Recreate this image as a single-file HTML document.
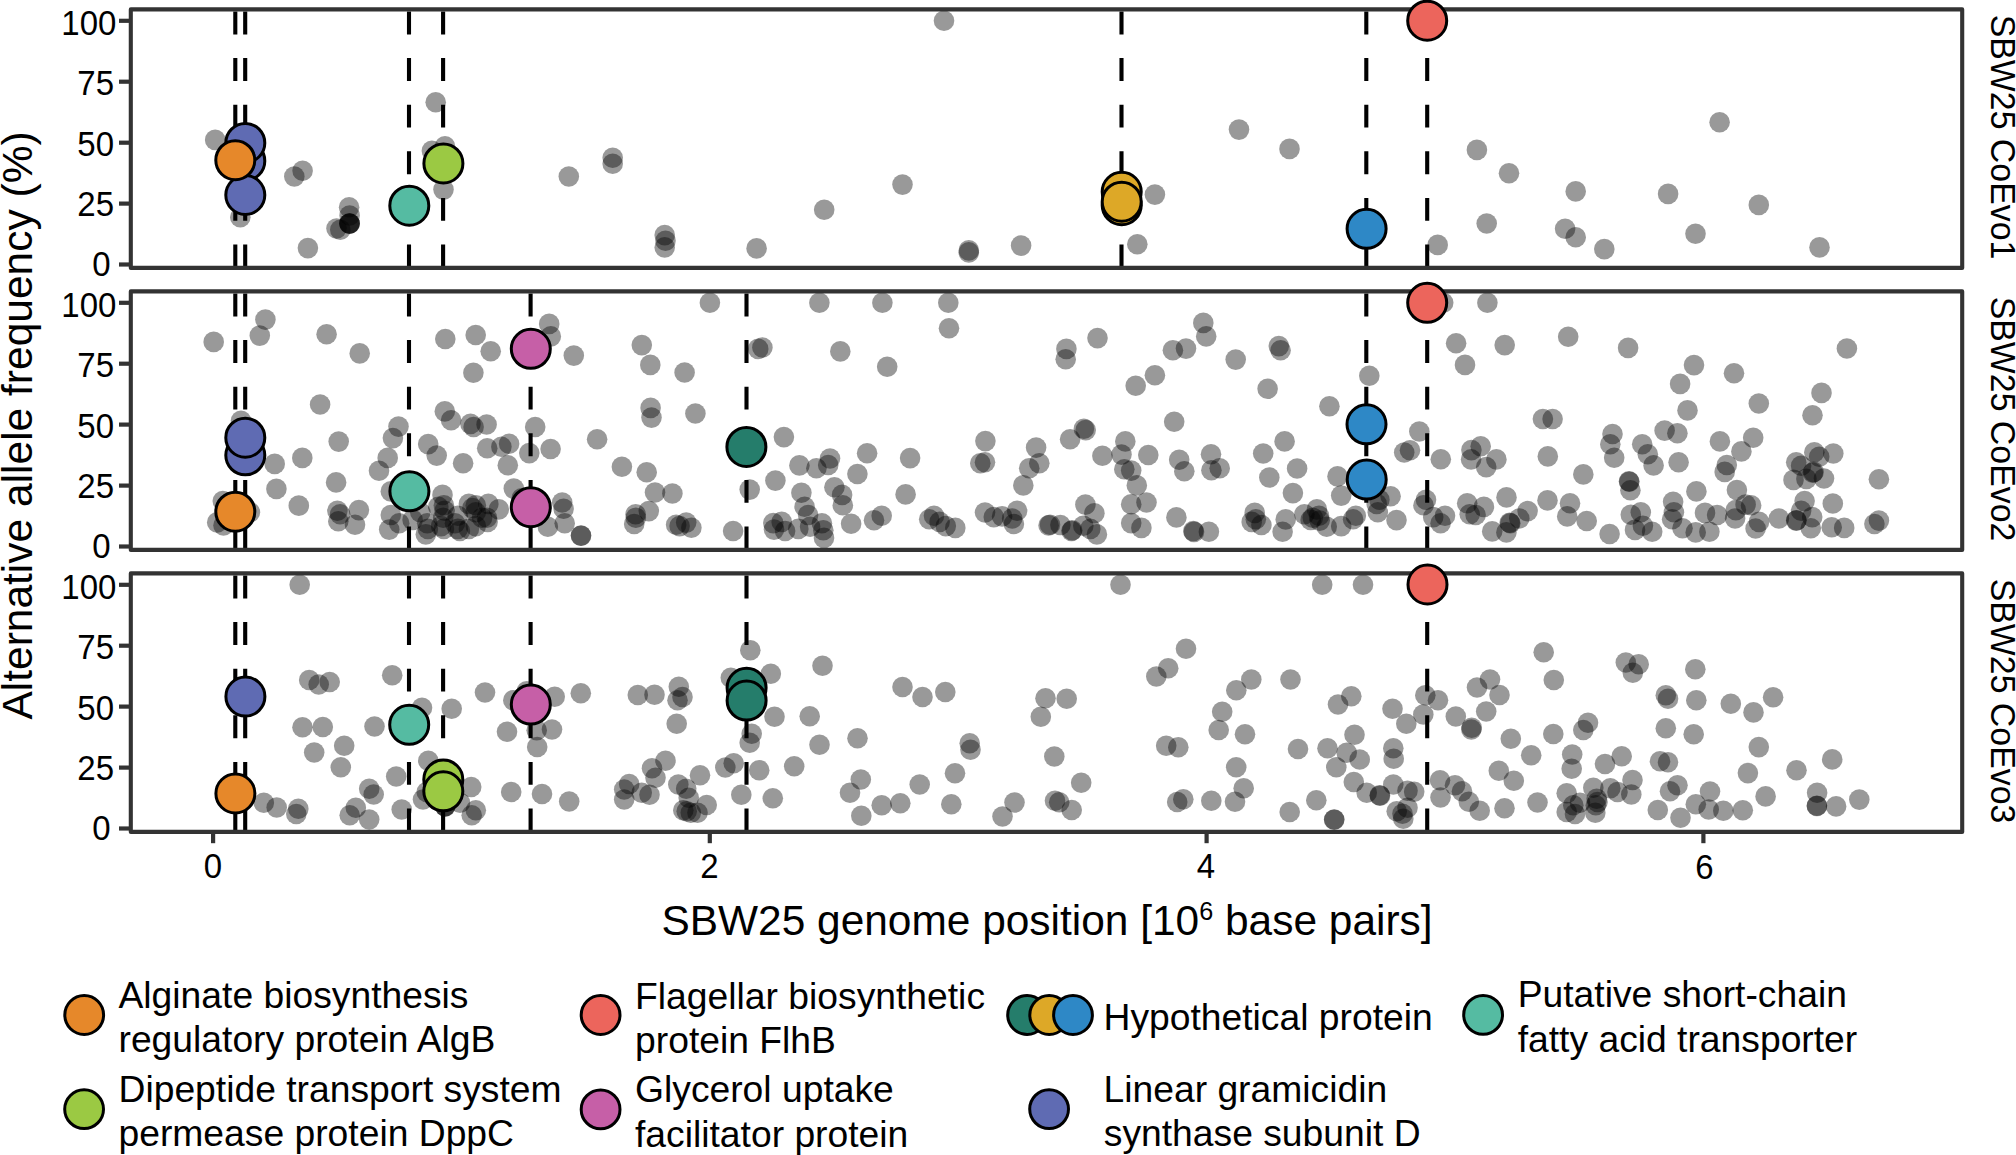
<!DOCTYPE html>
<html lang="en"><head><meta charset="utf-8"><title>SBW25 alternative allele frequency</title>
<style>html,body{margin:0;padding:0;background:#fff}svg{display:block}text{font-family:"Liberation Sans", Arial, Helvetica, sans-serif;fill:#000}</style>
</head><body>
<svg width="2016" height="1155" viewBox="0 0 2016 1155">
<rect width="2016" height="1155" fill="#fff"/>
<g id="panel1">
<g fill="#000" fill-opacity="0.4">
<circle cx="215.2" cy="139.9" r="10.3"/>
<circle cx="435.7" cy="102.2" r="10.3"/>
<circle cx="445.0" cy="146.4" r="10.3"/>
<circle cx="431.9" cy="150.7" r="10.3"/>
<circle cx="443.5" cy="189.6" r="10.3"/>
<circle cx="302.6" cy="170.8" r="10.3"/>
<circle cx="294.3" cy="176.5" r="10.3"/>
<circle cx="240.3" cy="217.2" r="10.3"/>
<circle cx="349.1" cy="207.2" r="10.3"/>
<circle cx="349.6" cy="215.5" r="10.3"/>
<circle cx="349.6" cy="223.5" r="10.3"/>
<circle cx="349.6" cy="223.5" r="10.3"/>
<circle cx="349.6" cy="223.8" r="10.3"/>
<circle cx="349.3" cy="223.5" r="10.3"/>
<circle cx="336.5" cy="228.5" r="10.3"/>
<circle cx="340.3" cy="229.8" r="10.3"/>
<circle cx="307.9" cy="248.1" r="10.3"/>
<circle cx="944.0" cy="20.8" r="10.3"/>
<circle cx="612.7" cy="157.7" r="10.3"/>
<circle cx="612.7" cy="163.7" r="10.3"/>
<circle cx="568.8" cy="176.5" r="10.3"/>
<circle cx="664.7" cy="235.1" r="10.3"/>
<circle cx="665.5" cy="240.8" r="10.3"/>
<circle cx="664.7" cy="247.4" r="10.3"/>
<circle cx="756.6" cy="248.4" r="10.3"/>
<circle cx="824.2" cy="209.7" r="10.3"/>
<circle cx="902.5" cy="184.6" r="10.3"/>
<circle cx="968.8" cy="250.4" r="10.3"/>
<circle cx="968.8" cy="252.4" r="10.3"/>
<circle cx="1021.1" cy="245.6" r="10.3"/>
<circle cx="1137.3" cy="244.3" r="10.3"/>
<circle cx="1154.9" cy="194.6" r="10.3"/>
<circle cx="1239.0" cy="129.6" r="10.3"/>
<circle cx="1289.5" cy="148.9" r="10.3"/>
<circle cx="1476.9" cy="149.9" r="10.3"/>
<circle cx="1509.0" cy="173.3" r="10.3"/>
<circle cx="1486.7" cy="223.5" r="10.3"/>
<circle cx="1437.7" cy="244.9" r="10.3"/>
<circle cx="1575.7" cy="191.4" r="10.3"/>
<circle cx="1565.1" cy="228.8" r="10.3"/>
<circle cx="1575.7" cy="237.3" r="10.3"/>
<circle cx="1604.3" cy="249.1" r="10.3"/>
<circle cx="1668.1" cy="193.9" r="10.3"/>
<circle cx="1695.5" cy="233.8" r="10.3"/>
<circle cx="1719.6" cy="122.3" r="10.3"/>
<circle cx="1758.8" cy="204.9" r="10.3"/>
<circle cx="1819.5" cy="247.4" r="10.3"/>
</g>
<g stroke="#000" stroke-width="4.1" stroke-dasharray="22.9 23.7">
<line x1="235.3" y1="11.5" x2="235.3" y2="267.9"/>
<line x1="245.2" y1="11.5" x2="245.2" y2="267.9"/>
<line x1="409.0" y1="11.5" x2="409.0" y2="267.9"/>
<line x1="443.1" y1="11.5" x2="443.1" y2="267.9"/>
<line x1="1121.5" y1="11.5" x2="1121.5" y2="267.9"/>
<line x1="1366.3" y1="11.5" x2="1366.3" y2="267.9"/>
<line x1="1427.2" y1="11.5" x2="1427.2" y2="267.9"/>
</g>
<rect x="130.8" y="9.4" width="1831.4" height="258.5" fill="none" stroke="#333333" stroke-width="4.1" stroke-linejoin="round"/>
<g stroke="#333333" stroke-width="4.2">
<line x1="119" y1="20.8" x2="129" y2="20.8"/>
<line x1="119" y1="81.7" x2="129" y2="81.7"/>
<line x1="119" y1="142.7" x2="129" y2="142.7"/>
<line x1="119" y1="203.6" x2="129" y2="203.6"/>
<line x1="119" y1="264.5" x2="129" y2="264.5"/>
</g>
<g font-size="34.5" text-anchor="end" lengthAdjust="spacingAndGlyphs">
<text x="116.4" y="35.2" textLength="55.06" lengthAdjust="spacingAndGlyphs">100</text>
<text x="114.0" y="95.4" textLength="36.71" lengthAdjust="spacingAndGlyphs">75</text>
<text x="114.0" y="155.7" textLength="36.71" lengthAdjust="spacingAndGlyphs">50</text>
<text x="114.0" y="215.9" textLength="36.71" lengthAdjust="spacingAndGlyphs">25</text>
<text x="110.6" y="276.1" textLength="18.35" lengthAdjust="spacingAndGlyphs">0</text>
</g>
<g stroke="#000" stroke-width="3">
<circle cx="245.3" cy="160.9" r="19.5" fill="#5F6BB3"/>
<circle cx="245.3" cy="142.9" r="19.5" fill="#5F6BB3"/>
<circle cx="245.3" cy="195.0" r="19.5" fill="#5F6BB3"/>
<circle cx="235.3" cy="160.2" r="19.5" fill="#E6882A"/>
<circle cx="409.3" cy="205.7" r="19.5" fill="#55BBA2"/>
<circle cx="443.4" cy="163.4" r="19.5" fill="#9BC943"/>
<circle cx="1121.7" cy="205.2" r="19.5" fill="#DDA827"/>
<circle cx="1121.7" cy="191.8" r="19.5" fill="#DDA827"/>
<circle cx="1121.7" cy="201.7" r="19.5" fill="#DDA827"/>
<circle cx="1366.6" cy="228.8" r="19.5" fill="#2E88C6"/>
<circle cx="1427.2" cy="20.7" r="19.5" fill="#EC655C"/>
</g>
<text font-size="34.6" textLength="244.6" lengthAdjust="spacingAndGlyphs" transform="translate(1990.6 14.7) rotate(90)">SBW25 CoEvo1</text>
</g>
<g id="panel2">
<g fill="#000" fill-opacity="0.4">
<circle cx="265.4" cy="319.6" r="10.3"/>
<circle cx="259.8" cy="335.6" r="10.3"/>
<circle cx="213.7" cy="341.9" r="10.3"/>
<circle cx="326.6" cy="334.2" r="10.3"/>
<circle cx="359.7" cy="353.4" r="10.3"/>
<circle cx="445.3" cy="339.0" r="10.3"/>
<circle cx="475.7" cy="335.0" r="10.3"/>
<circle cx="490.7" cy="351.3" r="10.3"/>
<circle cx="473.4" cy="372.8" r="10.3"/>
<circle cx="320.1" cy="404.5" r="10.3"/>
<circle cx="444.8" cy="411.4" r="10.3"/>
<circle cx="451.1" cy="420.3" r="10.3"/>
<circle cx="398.5" cy="426.6" r="10.3"/>
<circle cx="392.9" cy="438.1" r="10.3"/>
<circle cx="470.5" cy="423.9" r="10.3"/>
<circle cx="473.6" cy="427.0" r="10.3"/>
<circle cx="486.6" cy="424.5" r="10.3"/>
<circle cx="338.7" cy="441.6" r="10.3"/>
<circle cx="428.2" cy="444.1" r="10.3"/>
<circle cx="436.7" cy="455.6" r="10.3"/>
<circle cx="387.7" cy="457.9" r="10.3"/>
<circle cx="487.2" cy="448.3" r="10.3"/>
<circle cx="501.4" cy="446.8" r="10.3"/>
<circle cx="509.1" cy="443.7" r="10.3"/>
<circle cx="529.3" cy="453.1" r="10.3"/>
<circle cx="535.2" cy="427.0" r="10.3"/>
<circle cx="302.3" cy="457.9" r="10.3"/>
<circle cx="241.0" cy="420.7" r="10.3"/>
<circle cx="274.7" cy="463.9" r="10.3"/>
<circle cx="276.4" cy="488.9" r="10.3"/>
<circle cx="298.8" cy="505.6" r="10.3"/>
<circle cx="336.1" cy="482.4" r="10.3"/>
<circle cx="222.8" cy="501.1" r="10.3"/>
<circle cx="217.2" cy="522.4" r="10.3"/>
<circle cx="223.5" cy="525.4" r="10.3"/>
<circle cx="249.9" cy="512.2" r="10.3"/>
<circle cx="337.4" cy="510.8" r="10.3"/>
<circle cx="340.1" cy="514.3" r="10.3"/>
<circle cx="338.3" cy="521.2" r="10.3"/>
<circle cx="358.9" cy="510.1" r="10.3"/>
<circle cx="355.0" cy="524.7" r="10.3"/>
<circle cx="379.0" cy="470.8" r="10.3"/>
<circle cx="390.8" cy="491.4" r="10.3"/>
<circle cx="390.8" cy="515.0" r="10.3"/>
<circle cx="389.2" cy="529.6" r="10.3"/>
<circle cx="399.2" cy="523.3" r="10.3"/>
<circle cx="550.6" cy="449.0" r="10.3"/>
<circle cx="463.1" cy="463.3" r="10.3"/>
<circle cx="507.8" cy="465.3" r="10.3"/>
<circle cx="621.9" cy="466.8" r="10.3"/>
<circle cx="646.7" cy="472.2" r="10.3"/>
<circle cx="655.0" cy="492.5" r="10.3"/>
<circle cx="648.8" cy="511.1" r="10.3"/>
<circle cx="635.6" cy="514.3" r="10.3"/>
<circle cx="635.8" cy="517.8" r="10.3"/>
<circle cx="634.2" cy="524.0" r="10.3"/>
<circle cx="513.8" cy="488.6" r="10.3"/>
<circle cx="521.7" cy="498.3" r="10.3"/>
<circle cx="562.2" cy="502.5" r="10.3"/>
<circle cx="563.6" cy="508.8" r="10.3"/>
<circle cx="564.7" cy="523.3" r="10.3"/>
<circle cx="547.8" cy="526.8" r="10.3"/>
<circle cx="581.0" cy="535.8" r="10.3"/>
<circle cx="581.0" cy="535.6" r="10.3"/>
<circle cx="442.5" cy="494.9" r="10.3"/>
<circle cx="412.6" cy="519.9" r="10.3"/>
<circle cx="420.3" cy="512.2" r="10.3"/>
<circle cx="425.8" cy="534.4" r="10.3"/>
<circle cx="427.2" cy="523.3" r="10.3"/>
<circle cx="427.9" cy="528.9" r="10.3"/>
<circle cx="438.3" cy="506.7" r="10.3"/>
<circle cx="443.9" cy="505.3" r="10.3"/>
<circle cx="444.6" cy="510.8" r="10.3"/>
<circle cx="443.2" cy="517.8" r="10.3"/>
<circle cx="443.9" cy="528.9" r="10.3"/>
<circle cx="441.1" cy="526.1" r="10.3"/>
<circle cx="455.0" cy="523.3" r="10.3"/>
<circle cx="457.8" cy="528.9" r="10.3"/>
<circle cx="459.9" cy="531.0" r="10.3"/>
<circle cx="457.8" cy="515.7" r="10.3"/>
<circle cx="468.9" cy="503.9" r="10.3"/>
<circle cx="472.4" cy="508.1" r="10.3"/>
<circle cx="475.8" cy="505.3" r="10.3"/>
<circle cx="475.8" cy="512.2" r="10.3"/>
<circle cx="468.9" cy="528.9" r="10.3"/>
<circle cx="475.8" cy="526.1" r="10.3"/>
<circle cx="482.1" cy="517.8" r="10.3"/>
<circle cx="487.6" cy="521.9" r="10.3"/>
<circle cx="488.3" cy="503.9" r="10.3"/>
<circle cx="486.9" cy="517.8" r="10.3"/>
<circle cx="498.8" cy="509.4" r="10.3"/>
<circle cx="672.4" cy="493.5" r="10.3"/>
<circle cx="676.1" cy="524.7" r="10.3"/>
<circle cx="679.6" cy="526.1" r="10.3"/>
<circle cx="686.2" cy="522.6" r="10.3"/>
<circle cx="691.4" cy="527.8" r="10.3"/>
<circle cx="733.1" cy="531.0" r="10.3"/>
<circle cx="749.7" cy="489.6" r="10.3"/>
<circle cx="775.4" cy="480.6" r="10.3"/>
<circle cx="799.4" cy="465.4" r="10.3"/>
<circle cx="816.4" cy="468.2" r="10.3"/>
<circle cx="830.0" cy="458.5" r="10.3"/>
<circle cx="828.2" cy="465.0" r="10.3"/>
<circle cx="867.1" cy="453.2" r="10.3"/>
<circle cx="910.1" cy="458.1" r="10.3"/>
<circle cx="857.4" cy="474.0" r="10.3"/>
<circle cx="801.4" cy="492.8" r="10.3"/>
<circle cx="804.6" cy="506.7" r="10.3"/>
<circle cx="808.1" cy="515.0" r="10.3"/>
<circle cx="834.4" cy="487.2" r="10.3"/>
<circle cx="842.1" cy="494.9" r="10.3"/>
<circle cx="842.8" cy="505.3" r="10.3"/>
<circle cx="905.6" cy="494.4" r="10.3"/>
<circle cx="881.7" cy="515.7" r="10.3"/>
<circle cx="874.0" cy="520.3" r="10.3"/>
<circle cx="851.1" cy="523.8" r="10.3"/>
<circle cx="773.3" cy="523.1" r="10.3"/>
<circle cx="781.7" cy="521.9" r="10.3"/>
<circle cx="774.0" cy="529.6" r="10.3"/>
<circle cx="785.1" cy="531.0" r="10.3"/>
<circle cx="798.3" cy="528.9" r="10.3"/>
<circle cx="810.1" cy="526.8" r="10.3"/>
<circle cx="821.9" cy="523.3" r="10.3"/>
<circle cx="823.3" cy="530.3" r="10.3"/>
<circle cx="824.0" cy="537.9" r="10.3"/>
<circle cx="929.2" cy="519.2" r="10.3"/>
<circle cx="934.0" cy="515.7" r="10.3"/>
<circle cx="939.6" cy="521.9" r="10.3"/>
<circle cx="945.8" cy="526.1" r="10.3"/>
<circle cx="955.3" cy="527.9" r="10.3"/>
<circle cx="985.4" cy="441.1" r="10.3"/>
<circle cx="980.3" cy="463.3" r="10.3"/>
<circle cx="985.0" cy="462.2" r="10.3"/>
<circle cx="1036.1" cy="447.6" r="10.3"/>
<circle cx="1039.3" cy="463.3" r="10.3"/>
<circle cx="1029.2" cy="468.2" r="10.3"/>
<circle cx="1023.3" cy="485.4" r="10.3"/>
<circle cx="1070.1" cy="439.3" r="10.3"/>
<circle cx="1102.4" cy="455.7" r="10.3"/>
<circle cx="1125.3" cy="441.4" r="10.3"/>
<circle cx="1121.5" cy="454.6" r="10.3"/>
<circle cx="1124.3" cy="469.2" r="10.3"/>
<circle cx="1131.2" cy="470.6" r="10.3"/>
<circle cx="1148.3" cy="455.0" r="10.3"/>
<circle cx="1136.8" cy="485.4" r="10.3"/>
<circle cx="1131.2" cy="504.2" r="10.3"/>
<circle cx="1146.5" cy="502.5" r="10.3"/>
<circle cx="1131.2" cy="523.1" r="10.3"/>
<circle cx="1141.4" cy="527.9" r="10.3"/>
<circle cx="1085.4" cy="504.6" r="10.3"/>
<circle cx="1094.4" cy="513.2" r="10.3"/>
<circle cx="1176.4" cy="517.4" r="10.3"/>
<circle cx="985.0" cy="512.5" r="10.3"/>
<circle cx="993.8" cy="517.1" r="10.3"/>
<circle cx="1002.1" cy="516.4" r="10.3"/>
<circle cx="1017.1" cy="510.8" r="10.3"/>
<circle cx="1012.2" cy="518.5" r="10.3"/>
<circle cx="1013.9" cy="524.0" r="10.3"/>
<circle cx="1048.6" cy="525.4" r="10.3"/>
<circle cx="1050.0" cy="524.7" r="10.3"/>
<circle cx="1060.4" cy="525.0" r="10.3"/>
<circle cx="1071.5" cy="531.0" r="10.3"/>
<circle cx="1072.2" cy="530.3" r="10.3"/>
<circle cx="1083.3" cy="525.8" r="10.3"/>
<circle cx="1090.3" cy="528.9" r="10.3"/>
<circle cx="1096.9" cy="534.4" r="10.3"/>
<circle cx="1179.2" cy="459.7" r="10.3"/>
<circle cx="1184.3" cy="471.2" r="10.3"/>
<circle cx="1211.0" cy="454.3" r="10.3"/>
<circle cx="1211.4" cy="470.3" r="10.3"/>
<circle cx="1219.7" cy="468.2" r="10.3"/>
<circle cx="1263.2" cy="453.5" r="10.3"/>
<circle cx="1284.6" cy="441.4" r="10.3"/>
<circle cx="1269.3" cy="477.5" r="10.3"/>
<circle cx="1297.1" cy="468.5" r="10.3"/>
<circle cx="1292.9" cy="493.1" r="10.3"/>
<circle cx="1337.5" cy="476.4" r="10.3"/>
<circle cx="1341.2" cy="495.6" r="10.3"/>
<circle cx="1390.6" cy="496.2" r="10.3"/>
<circle cx="1379.4" cy="499.7" r="10.3"/>
<circle cx="1376.7" cy="503.9" r="10.3"/>
<circle cx="1377.8" cy="512.2" r="10.3"/>
<circle cx="1396.5" cy="520.1" r="10.3"/>
<circle cx="1404.2" cy="452.5" r="10.3"/>
<circle cx="1410.0" cy="450.3" r="10.3"/>
<circle cx="1426.0" cy="499.7" r="10.3"/>
<circle cx="1423.5" cy="505.3" r="10.3"/>
<circle cx="1194.0" cy="531.9" r="10.3"/>
<circle cx="1193.3" cy="531.0" r="10.3"/>
<circle cx="1208.9" cy="531.7" r="10.3"/>
<circle cx="1254.7" cy="512.9" r="10.3"/>
<circle cx="1251.7" cy="521.9" r="10.3"/>
<circle cx="1255.8" cy="519.2" r="10.3"/>
<circle cx="1261.4" cy="525.0" r="10.3"/>
<circle cx="1285.7" cy="519.4" r="10.3"/>
<circle cx="1282.6" cy="531.7" r="10.3"/>
<circle cx="1304.4" cy="514.3" r="10.3"/>
<circle cx="1310.7" cy="519.9" r="10.3"/>
<circle cx="1316.9" cy="509.4" r="10.3"/>
<circle cx="1319.0" cy="515.7" r="10.3"/>
<circle cx="1319.7" cy="520.6" r="10.3"/>
<circle cx="1326.7" cy="526.8" r="10.3"/>
<circle cx="1312.8" cy="517.8" r="10.3"/>
<circle cx="1341.2" cy="526.1" r="10.3"/>
<circle cx="1353.1" cy="519.2" r="10.3"/>
<circle cx="1355.8" cy="515.7" r="10.3"/>
<circle cx="1440.8" cy="459.2" r="10.3"/>
<circle cx="1471.4" cy="450.1" r="10.3"/>
<circle cx="1480.7" cy="446.2" r="10.3"/>
<circle cx="1471.1" cy="459.4" r="10.3"/>
<circle cx="1496.4" cy="459.4" r="10.3"/>
<circle cx="1486.2" cy="467.1" r="10.3"/>
<circle cx="1547.8" cy="456.4" r="10.3"/>
<circle cx="1583.3" cy="474.4" r="10.3"/>
<circle cx="1610.3" cy="444.2" r="10.3"/>
<circle cx="1614.2" cy="457.8" r="10.3"/>
<circle cx="1642.2" cy="444.2" r="10.3"/>
<circle cx="1647.8" cy="454.3" r="10.3"/>
<circle cx="1653.6" cy="465.4" r="10.3"/>
<circle cx="1678.6" cy="462.2" r="10.3"/>
<circle cx="1629.0" cy="481.2" r="10.3"/>
<circle cx="1629.3" cy="481.7" r="10.3"/>
<circle cx="1630.4" cy="490.3" r="10.3"/>
<circle cx="1696.4" cy="491.4" r="10.3"/>
<circle cx="1673.1" cy="501.8" r="10.3"/>
<circle cx="1673.9" cy="512.2" r="10.3"/>
<circle cx="1672.1" cy="519.2" r="10.3"/>
<circle cx="1682.5" cy="528.2" r="10.3"/>
<circle cx="1695.7" cy="532.4" r="10.3"/>
<circle cx="1630.8" cy="514.7" r="10.3"/>
<circle cx="1640.8" cy="512.2" r="10.3"/>
<circle cx="1642.9" cy="525.7" r="10.3"/>
<circle cx="1635.0" cy="529.9" r="10.3"/>
<circle cx="1652.2" cy="531.7" r="10.3"/>
<circle cx="1609.6" cy="534.0" r="10.3"/>
<circle cx="1586.7" cy="521.0" r="10.3"/>
<circle cx="1567.2" cy="516.4" r="10.3"/>
<circle cx="1570.0" cy="503.2" r="10.3"/>
<circle cx="1547.5" cy="500.4" r="10.3"/>
<circle cx="1506.5" cy="497.4" r="10.3"/>
<circle cx="1527.6" cy="511.1" r="10.3"/>
<circle cx="1519.3" cy="518.5" r="10.3"/>
<circle cx="1510.3" cy="523.3" r="10.3"/>
<circle cx="1509.7" cy="522.8" r="10.3"/>
<circle cx="1506.4" cy="532.4" r="10.3"/>
<circle cx="1492.2" cy="531.4" r="10.3"/>
<circle cx="1467.2" cy="503.2" r="10.3"/>
<circle cx="1483.9" cy="506.9" r="10.3"/>
<circle cx="1469.7" cy="514.3" r="10.3"/>
<circle cx="1475.6" cy="515.0" r="10.3"/>
<circle cx="1433.2" cy="517.1" r="10.3"/>
<circle cx="1445.0" cy="515.7" r="10.3"/>
<circle cx="1440.6" cy="523.3" r="10.3"/>
<circle cx="1719.9" cy="441.4" r="10.3"/>
<circle cx="1741.4" cy="451.4" r="10.3"/>
<circle cx="1726.8" cy="465.0" r="10.3"/>
<circle cx="1724.7" cy="471.9" r="10.3"/>
<circle cx="1736.9" cy="490.0" r="10.3"/>
<circle cx="1705.0" cy="512.9" r="10.3"/>
<circle cx="1717.1" cy="515.0" r="10.3"/>
<circle cx="1709.4" cy="531.7" r="10.3"/>
<circle cx="1735.8" cy="510.1" r="10.3"/>
<circle cx="1745.6" cy="504.6" r="10.3"/>
<circle cx="1751.1" cy="505.3" r="10.3"/>
<circle cx="1735.1" cy="518.5" r="10.3"/>
<circle cx="1759.0" cy="521.9" r="10.3"/>
<circle cx="1755.6" cy="528.5" r="10.3"/>
<circle cx="1778.9" cy="518.5" r="10.3"/>
<circle cx="1814.3" cy="452.2" r="10.3"/>
<circle cx="1819.2" cy="456.7" r="10.3"/>
<circle cx="1833.3" cy="453.5" r="10.3"/>
<circle cx="1796.2" cy="462.2" r="10.3"/>
<circle cx="1801.1" cy="465.7" r="10.3"/>
<circle cx="1813.6" cy="471.9" r="10.3"/>
<circle cx="1812.8" cy="472.8" r="10.3"/>
<circle cx="1793.5" cy="479.9" r="10.3"/>
<circle cx="1806.4" cy="478.9" r="10.3"/>
<circle cx="1824.0" cy="478.5" r="10.3"/>
<circle cx="1804.6" cy="501.1" r="10.3"/>
<circle cx="1801.1" cy="510.8" r="10.3"/>
<circle cx="1796.2" cy="520.6" r="10.3"/>
<circle cx="1796.5" cy="520.3" r="10.3"/>
<circle cx="1812.2" cy="517.1" r="10.3"/>
<circle cx="1810.8" cy="528.2" r="10.3"/>
<circle cx="1832.8" cy="503.5" r="10.3"/>
<circle cx="1831.7" cy="527.2" r="10.3"/>
<circle cx="1844.2" cy="527.9" r="10.3"/>
<circle cx="1878.9" cy="479.3" r="10.3"/>
<circle cx="1878.9" cy="520.6" r="10.3"/>
<circle cx="1874.4" cy="524.0" r="10.3"/>
<circle cx="549.2" cy="323.9" r="10.3"/>
<circle cx="550.8" cy="336.4" r="10.3"/>
<circle cx="573.8" cy="355.6" r="10.3"/>
<circle cx="709.9" cy="302.8" r="10.3"/>
<circle cx="641.8" cy="345.1" r="10.3"/>
<circle cx="650.3" cy="364.9" r="10.3"/>
<circle cx="684.6" cy="372.5" r="10.3"/>
<circle cx="762.4" cy="347.5" r="10.3"/>
<circle cx="758.2" cy="348.9" r="10.3"/>
<circle cx="650.6" cy="407.9" r="10.3"/>
<circle cx="651.5" cy="417.6" r="10.3"/>
<circle cx="695.4" cy="413.5" r="10.3"/>
<circle cx="597.1" cy="439.2" r="10.3"/>
<circle cx="783.9" cy="437.1" r="10.3"/>
<circle cx="819.4" cy="302.8" r="10.3"/>
<circle cx="882.4" cy="302.8" r="10.3"/>
<circle cx="948.3" cy="302.8" r="10.3"/>
<circle cx="949.0" cy="328.3" r="10.3"/>
<circle cx="840.3" cy="351.4" r="10.3"/>
<circle cx="887.2" cy="366.7" r="10.3"/>
<circle cx="1066.4" cy="348.9" r="10.3"/>
<circle cx="1065.7" cy="359.3" r="10.3"/>
<circle cx="1097.5" cy="338.1" r="10.3"/>
<circle cx="1203.3" cy="322.9" r="10.3"/>
<circle cx="1206.2" cy="336.4" r="10.3"/>
<circle cx="1172.9" cy="350.3" r="10.3"/>
<circle cx="1186.0" cy="348.6" r="10.3"/>
<circle cx="1154.9" cy="375.3" r="10.3"/>
<circle cx="1135.7" cy="385.7" r="10.3"/>
<circle cx="1235.7" cy="359.6" r="10.3"/>
<circle cx="1278.8" cy="346.1" r="10.3"/>
<circle cx="1280.6" cy="350.3" r="10.3"/>
<circle cx="1267.6" cy="388.8" r="10.3"/>
<circle cx="1329.4" cy="406.2" r="10.3"/>
<circle cx="1174.2" cy="421.8" r="10.3"/>
<circle cx="1083.9" cy="428.8" r="10.3"/>
<circle cx="1085.7" cy="430.1" r="10.3"/>
<circle cx="1369.3" cy="375.7" r="10.3"/>
<circle cx="1443.2" cy="302.8" r="10.3"/>
<circle cx="1487.4" cy="302.8" r="10.3"/>
<circle cx="1456.1" cy="343.3" r="10.3"/>
<circle cx="1504.7" cy="345.1" r="10.3"/>
<circle cx="1568.2" cy="336.7" r="10.3"/>
<circle cx="1465.0" cy="364.9" r="10.3"/>
<circle cx="1542.9" cy="419.0" r="10.3"/>
<circle cx="1552.6" cy="419.0" r="10.3"/>
<circle cx="1419.3" cy="431.5" r="10.3"/>
<circle cx="1628.1" cy="347.9" r="10.3"/>
<circle cx="1694.0" cy="365.1" r="10.3"/>
<circle cx="1680.1" cy="383.9" r="10.3"/>
<circle cx="1734.0" cy="373.2" r="10.3"/>
<circle cx="1687.5" cy="410.4" r="10.3"/>
<circle cx="1758.8" cy="403.5" r="10.3"/>
<circle cx="1846.9" cy="348.5" r="10.3"/>
<circle cx="1821.5" cy="392.9" r="10.3"/>
<circle cx="1812.5" cy="415.3" r="10.3"/>
<circle cx="1612.5" cy="434.0" r="10.3"/>
<circle cx="1664.6" cy="430.6" r="10.3"/>
<circle cx="1677.4" cy="433.3" r="10.3"/>
<circle cx="1753.2" cy="437.8" r="10.3"/>
</g>
<g stroke="#000" stroke-width="4.1" stroke-dasharray="22.9 23.7">
<line x1="235.3" y1="293.5" x2="235.3" y2="549.9"/>
<line x1="245.2" y1="293.5" x2="245.2" y2="549.9"/>
<line x1="409.0" y1="293.5" x2="409.0" y2="549.9"/>
<line x1="530.6" y1="293.5" x2="530.6" y2="549.9"/>
<line x1="746.5" y1="293.5" x2="746.5" y2="549.9"/>
<line x1="1366.3" y1="293.5" x2="1366.3" y2="549.9"/>
<line x1="1427.2" y1="293.5" x2="1427.2" y2="549.9"/>
</g>
<rect x="130.8" y="291.4" width="1831.4" height="258.5" fill="none" stroke="#333333" stroke-width="4.1" stroke-linejoin="round"/>
<g stroke="#333333" stroke-width="4.2">
<line x1="119" y1="302.8" x2="129" y2="302.8"/>
<line x1="119" y1="363.7" x2="129" y2="363.7"/>
<line x1="119" y1="424.6" x2="129" y2="424.6"/>
<line x1="119" y1="485.6" x2="129" y2="485.6"/>
<line x1="119" y1="546.5" x2="129" y2="546.5"/>
</g>
<g font-size="34.5" text-anchor="end" lengthAdjust="spacingAndGlyphs">
<text x="116.4" y="317.2" textLength="55.06" lengthAdjust="spacingAndGlyphs">100</text>
<text x="114.0" y="377.4" textLength="36.71" lengthAdjust="spacingAndGlyphs">75</text>
<text x="114.0" y="437.6" textLength="36.71" lengthAdjust="spacingAndGlyphs">50</text>
<text x="114.0" y="497.9" textLength="36.71" lengthAdjust="spacingAndGlyphs">25</text>
<text x="110.6" y="558.1" textLength="18.35" lengthAdjust="spacingAndGlyphs">0</text>
</g>
<g stroke="#000" stroke-width="3">
<circle cx="245.3" cy="455.3" r="19.5" fill="#5F6BB3"/>
<circle cx="245.3" cy="437.7" r="19.5" fill="#5F6BB3"/>
<circle cx="235.3" cy="511.7" r="19.5" fill="#E6882A"/>
<circle cx="409.4" cy="491.3" r="19.5" fill="#55BBA2"/>
<circle cx="530.8" cy="348.8" r="19.5" fill="#C65FA7"/>
<circle cx="530.8" cy="507.2" r="19.5" fill="#C65FA7"/>
<circle cx="746.4" cy="446.9" r="19.5" fill="#257D6B"/>
<circle cx="1366.7" cy="479.6" r="19.5" fill="#2E88C6"/>
<circle cx="1366.5" cy="424.3" r="19.5" fill="#2E88C6"/>
<circle cx="1427.2" cy="302.8" r="19.5" fill="#EC655C"/>
</g>
<text font-size="34.6" textLength="244.6" lengthAdjust="spacingAndGlyphs" transform="translate(1990.6 296.7) rotate(90)">SBW25 CoEvo2</text>
</g>
<g id="panel3">
<g fill="#000" fill-opacity="0.4">
<circle cx="299.7" cy="584.8" r="10.3"/>
<circle cx="309.2" cy="680.0" r="10.3"/>
<circle cx="318.7" cy="684.5" r="10.3"/>
<circle cx="329.7" cy="682.0" r="10.3"/>
<circle cx="392.2" cy="675.3" r="10.3"/>
<circle cx="302.5" cy="727.3" r="10.3"/>
<circle cx="322.8" cy="727.0" r="10.3"/>
<circle cx="374.5" cy="726.5" r="10.3"/>
<circle cx="344.2" cy="745.8" r="10.3"/>
<circle cx="314.2" cy="752.5" r="10.3"/>
<circle cx="340.8" cy="767.3" r="10.3"/>
<circle cx="422.0" cy="707.8" r="10.3"/>
<circle cx="451.7" cy="708.7" r="10.3"/>
<circle cx="428.3" cy="760.8" r="10.3"/>
<circle cx="396.2" cy="776.5" r="10.3"/>
<circle cx="369.2" cy="788.7" r="10.3"/>
<circle cx="373.7" cy="794.5" r="10.3"/>
<circle cx="263.8" cy="802.8" r="10.3"/>
<circle cx="276.7" cy="807.5" r="10.3"/>
<circle cx="298.3" cy="808.7" r="10.3"/>
<circle cx="296.3" cy="814.0" r="10.3"/>
<circle cx="355.8" cy="807.8" r="10.3"/>
<circle cx="349.7" cy="815.3" r="10.3"/>
<circle cx="369.2" cy="819.5" r="10.3"/>
<circle cx="401.7" cy="809.5" r="10.3"/>
<circle cx="423.0" cy="799.5" r="10.3"/>
<circle cx="426.7" cy="792.0" r="10.3"/>
<circle cx="445.0" cy="806.3" r="10.3"/>
<circle cx="445.0" cy="806.3" r="10.3"/>
<circle cx="445.3" cy="806.5" r="10.3"/>
<circle cx="485.0" cy="692.5" r="10.3"/>
<circle cx="580.8" cy="693.3" r="10.3"/>
<circle cx="554.7" cy="696.7" r="10.3"/>
<circle cx="637.8" cy="695.0" r="10.3"/>
<circle cx="654.5" cy="694.8" r="10.3"/>
<circle cx="678.8" cy="686.7" r="10.3"/>
<circle cx="682.5" cy="697.0" r="10.3"/>
<circle cx="677.5" cy="700.3" r="10.3"/>
<circle cx="750.3" cy="650.3" r="10.3"/>
<circle cx="770.8" cy="673.7" r="10.3"/>
<circle cx="730.8" cy="677.8" r="10.3"/>
<circle cx="526.7" cy="691.2" r="10.3"/>
<circle cx="513.3" cy="700.3" r="10.3"/>
<circle cx="507.0" cy="731.7" r="10.3"/>
<circle cx="536.7" cy="730.3" r="10.3"/>
<circle cx="552.0" cy="729.5" r="10.3"/>
<circle cx="537.2" cy="747.0" r="10.3"/>
<circle cx="676.7" cy="723.7" r="10.3"/>
<circle cx="751.7" cy="733.7" r="10.3"/>
<circle cx="749.7" cy="742.8" r="10.3"/>
<circle cx="665.5" cy="760.8" r="10.3"/>
<circle cx="652.0" cy="768.2" r="10.3"/>
<circle cx="655.5" cy="777.8" r="10.3"/>
<circle cx="700.0" cy="775.3" r="10.3"/>
<circle cx="733.7" cy="763.3" r="10.3"/>
<circle cx="725.3" cy="767.5" r="10.3"/>
<circle cx="759.2" cy="770.3" r="10.3"/>
<circle cx="629.2" cy="784.0" r="10.3"/>
<circle cx="624.2" cy="789.5" r="10.3"/>
<circle cx="624.2" cy="799.5" r="10.3"/>
<circle cx="641.7" cy="792.8" r="10.3"/>
<circle cx="649.5" cy="794.8" r="10.3"/>
<circle cx="678.3" cy="784.5" r="10.3"/>
<circle cx="686.2" cy="788.7" r="10.3"/>
<circle cx="688.7" cy="797.8" r="10.3"/>
<circle cx="706.7" cy="805.0" r="10.3"/>
<circle cx="686.7" cy="811.2" r="10.3"/>
<circle cx="690.8" cy="812.8" r="10.3"/>
<circle cx="697.5" cy="812.8" r="10.3"/>
<circle cx="683.3" cy="810.3" r="10.3"/>
<circle cx="741.3" cy="794.8" r="10.3"/>
<circle cx="511.2" cy="792.0" r="10.3"/>
<circle cx="542.0" cy="794.0" r="10.3"/>
<circle cx="569.2" cy="801.5" r="10.3"/>
<circle cx="471.2" cy="787.0" r="10.3"/>
<circle cx="460.0" cy="802.8" r="10.3"/>
<circle cx="475.8" cy="810.3" r="10.3"/>
<circle cx="471.7" cy="815.3" r="10.3"/>
<circle cx="822.5" cy="665.7" r="10.3"/>
<circle cx="902.5" cy="687.0" r="10.3"/>
<circle cx="922.5" cy="697.0" r="10.3"/>
<circle cx="945.3" cy="692.0" r="10.3"/>
<circle cx="1045.5" cy="698.2" r="10.3"/>
<circle cx="1066.7" cy="698.7" r="10.3"/>
<circle cx="774.5" cy="716.7" r="10.3"/>
<circle cx="809.7" cy="716.2" r="10.3"/>
<circle cx="819.5" cy="744.8" r="10.3"/>
<circle cx="857.5" cy="738.2" r="10.3"/>
<circle cx="794.2" cy="766.2" r="10.3"/>
<circle cx="772.8" cy="798.3" r="10.3"/>
<circle cx="860.8" cy="779.5" r="10.3"/>
<circle cx="850.0" cy="792.8" r="10.3"/>
<circle cx="861.3" cy="815.8" r="10.3"/>
<circle cx="881.7" cy="805.3" r="10.3"/>
<circle cx="900.3" cy="803.2" r="10.3"/>
<circle cx="919.7" cy="784.5" r="10.3"/>
<circle cx="955.0" cy="773.3" r="10.3"/>
<circle cx="969.7" cy="743.2" r="10.3"/>
<circle cx="970.5" cy="749.8" r="10.3"/>
<circle cx="951.3" cy="804.2" r="10.3"/>
<circle cx="1040.8" cy="716.7" r="10.3"/>
<circle cx="1054.3" cy="756.5" r="10.3"/>
<circle cx="1081.2" cy="782.8" r="10.3"/>
<circle cx="1014.5" cy="802.5" r="10.3"/>
<circle cx="1002.5" cy="816.5" r="10.3"/>
<circle cx="1055.0" cy="800.7" r="10.3"/>
<circle cx="1059.2" cy="802.3" r="10.3"/>
<circle cx="1071.7" cy="810.0" r="10.3"/>
<circle cx="1120.5" cy="584.8" r="10.3"/>
<circle cx="1322.2" cy="584.8" r="10.3"/>
<circle cx="1363.0" cy="584.8" r="10.3"/>
<circle cx="1186.0" cy="648.7" r="10.3"/>
<circle cx="1168.2" cy="668.3" r="10.3"/>
<circle cx="1156.3" cy="676.5" r="10.3"/>
<circle cx="1251.3" cy="679.5" r="10.3"/>
<circle cx="1236.3" cy="690.3" r="10.3"/>
<circle cx="1290.5" cy="679.5" r="10.3"/>
<circle cx="1351.3" cy="696.2" r="10.3"/>
<circle cx="1338.0" cy="704.5" r="10.3"/>
<circle cx="1222.2" cy="711.7" r="10.3"/>
<circle cx="1218.7" cy="730.0" r="10.3"/>
<circle cx="1245.0" cy="734.2" r="10.3"/>
<circle cx="1166.2" cy="745.7" r="10.3"/>
<circle cx="1178.3" cy="747.3" r="10.3"/>
<circle cx="1236.2" cy="767.3" r="10.3"/>
<circle cx="1243.7" cy="788.2" r="10.3"/>
<circle cx="1235.0" cy="801.7" r="10.3"/>
<circle cx="1211.3" cy="800.7" r="10.3"/>
<circle cx="1183.3" cy="799.2" r="10.3"/>
<circle cx="1177.2" cy="802.0" r="10.3"/>
<circle cx="1298.0" cy="749.0" r="10.3"/>
<circle cx="1289.7" cy="812.0" r="10.3"/>
<circle cx="1316.3" cy="800.3" r="10.3"/>
<circle cx="1334.2" cy="819.5" r="10.3"/>
<circle cx="1334.2" cy="819.8" r="10.3"/>
<circle cx="1392.5" cy="708.7" r="10.3"/>
<circle cx="1354.5" cy="734.8" r="10.3"/>
<circle cx="1327.5" cy="748.2" r="10.3"/>
<circle cx="1346.7" cy="752.8" r="10.3"/>
<circle cx="1359.7" cy="759.5" r="10.3"/>
<circle cx="1336.3" cy="767.3" r="10.3"/>
<circle cx="1393.3" cy="748.2" r="10.3"/>
<circle cx="1393.7" cy="758.7" r="10.3"/>
<circle cx="1353.8" cy="782.0" r="10.3"/>
<circle cx="1366.7" cy="792.8" r="10.3"/>
<circle cx="1379.7" cy="795.3" r="10.3"/>
<circle cx="1380.0" cy="795.7" r="10.3"/>
<circle cx="1393.3" cy="784.5" r="10.3"/>
<circle cx="1396.7" cy="811.2" r="10.3"/>
<circle cx="1425.3" cy="695.3" r="10.3"/>
<circle cx="1438.0" cy="700.3" r="10.3"/>
<circle cx="1477.0" cy="687.5" r="10.3"/>
<circle cx="1490.0" cy="679.5" r="10.3"/>
<circle cx="1499.5" cy="695.0" r="10.3"/>
<circle cx="1543.7" cy="652.3" r="10.3"/>
<circle cx="1553.8" cy="680.0" r="10.3"/>
<circle cx="1625.8" cy="662.5" r="10.3"/>
<circle cx="1638.7" cy="664.2" r="10.3"/>
<circle cx="1632.8" cy="672.8" r="10.3"/>
<circle cx="1695.3" cy="669.2" r="10.3"/>
<circle cx="1696.3" cy="700.3" r="10.3"/>
<circle cx="1665.8" cy="695.3" r="10.3"/>
<circle cx="1668.0" cy="698.7" r="10.3"/>
<circle cx="1730.8" cy="703.7" r="10.3"/>
<circle cx="1406.3" cy="723.7" r="10.3"/>
<circle cx="1423.3" cy="714.5" r="10.3"/>
<circle cx="1407.5" cy="790.7" r="10.3"/>
<circle cx="1414.2" cy="791.7" r="10.3"/>
<circle cx="1407.5" cy="807.8" r="10.3"/>
<circle cx="1402.5" cy="813.7" r="10.3"/>
<circle cx="1403.3" cy="818.7" r="10.3"/>
<circle cx="1455.8" cy="716.5" r="10.3"/>
<circle cx="1471.7" cy="727.8" r="10.3"/>
<circle cx="1471.3" cy="729.5" r="10.3"/>
<circle cx="1486.2" cy="711.5" r="10.3"/>
<circle cx="1510.8" cy="738.7" r="10.3"/>
<circle cx="1553.3" cy="734.0" r="10.3"/>
<circle cx="1531.2" cy="755.3" r="10.3"/>
<circle cx="1588.0" cy="722.8" r="10.3"/>
<circle cx="1583.3" cy="730.0" r="10.3"/>
<circle cx="1572.2" cy="754.5" r="10.3"/>
<circle cx="1571.7" cy="768.7" r="10.3"/>
<circle cx="1605.0" cy="764.0" r="10.3"/>
<circle cx="1621.7" cy="756.2" r="10.3"/>
<circle cx="1498.8" cy="770.8" r="10.3"/>
<circle cx="1513.8" cy="780.8" r="10.3"/>
<circle cx="1440.0" cy="780.3" r="10.3"/>
<circle cx="1455.0" cy="785.3" r="10.3"/>
<circle cx="1462.0" cy="791.2" r="10.3"/>
<circle cx="1440.5" cy="797.5" r="10.3"/>
<circle cx="1468.8" cy="801.7" r="10.3"/>
<circle cx="1479.7" cy="810.8" r="10.3"/>
<circle cx="1504.5" cy="808.2" r="10.3"/>
<circle cx="1537.5" cy="802.5" r="10.3"/>
<circle cx="1566.7" cy="793.3" r="10.3"/>
<circle cx="1573.3" cy="805.3" r="10.3"/>
<circle cx="1580.0" cy="802.8" r="10.3"/>
<circle cx="1566.7" cy="812.0" r="10.3"/>
<circle cx="1575.0" cy="814.0" r="10.3"/>
<circle cx="1593.3" cy="787.8" r="10.3"/>
<circle cx="1596.7" cy="798.7" r="10.3"/>
<circle cx="1595.8" cy="805.3" r="10.3"/>
<circle cx="1595.3" cy="812.8" r="10.3"/>
<circle cx="1597.5" cy="802.0" r="10.3"/>
<circle cx="1610.3" cy="788.2" r="10.3"/>
<circle cx="1617.5" cy="792.0" r="10.3"/>
<circle cx="1632.5" cy="780.0" r="10.3"/>
<circle cx="1631.3" cy="794.5" r="10.3"/>
<circle cx="1660.0" cy="761.2" r="10.3"/>
<circle cx="1668.0" cy="762.3" r="10.3"/>
<circle cx="1665.8" cy="728.3" r="10.3"/>
<circle cx="1693.7" cy="734.2" r="10.3"/>
<circle cx="1677.5" cy="785.3" r="10.3"/>
<circle cx="1670.0" cy="791.2" r="10.3"/>
<circle cx="1657.8" cy="810.0" r="10.3"/>
<circle cx="1680.5" cy="817.8" r="10.3"/>
<circle cx="1695.8" cy="804.2" r="10.3"/>
<circle cx="1710.0" cy="791.5" r="10.3"/>
<circle cx="1708.7" cy="809.5" r="10.3"/>
<circle cx="1723.3" cy="810.7" r="10.3"/>
<circle cx="1773.1" cy="697.3" r="10.3"/>
<circle cx="1753.5" cy="712.4" r="10.3"/>
<circle cx="1758.8" cy="747.1" r="10.3"/>
<circle cx="1747.9" cy="773.1" r="10.3"/>
<circle cx="1765.6" cy="796.4" r="10.3"/>
<circle cx="1742.8" cy="810.3" r="10.3"/>
<circle cx="1796.5" cy="770.3" r="10.3"/>
<circle cx="1832.2" cy="759.4" r="10.3"/>
<circle cx="1817.1" cy="792.7" r="10.3"/>
<circle cx="1816.9" cy="805.8" r="10.3"/>
<circle cx="1816.9" cy="806.0" r="10.3"/>
<circle cx="1836.1" cy="806.4" r="10.3"/>
<circle cx="1859.3" cy="799.6" r="10.3"/>
</g>
<g stroke="#000" stroke-width="4.1" stroke-dasharray="22.9 23.7">
<line x1="235.3" y1="575.5" x2="235.3" y2="831.9"/>
<line x1="245.2" y1="575.5" x2="245.2" y2="831.9"/>
<line x1="409.0" y1="575.5" x2="409.0" y2="831.9"/>
<line x1="443.1" y1="575.5" x2="443.1" y2="831.9"/>
<line x1="530.6" y1="575.5" x2="530.6" y2="831.9"/>
<line x1="746.5" y1="575.5" x2="746.5" y2="831.9"/>
<line x1="1427.2" y1="575.5" x2="1427.2" y2="831.9"/>
</g>
<rect x="130.8" y="573.4" width="1831.4" height="258.5" fill="none" stroke="#333333" stroke-width="4.1" stroke-linejoin="round"/>
<g stroke="#333333" stroke-width="4.2">
<line x1="119" y1="584.8" x2="129" y2="584.8"/>
<line x1="119" y1="645.7" x2="129" y2="645.7"/>
<line x1="119" y1="706.6" x2="129" y2="706.6"/>
<line x1="119" y1="767.6" x2="129" y2="767.6"/>
<line x1="119" y1="828.5" x2="129" y2="828.5"/>
</g>
<g font-size="34.5" text-anchor="end" lengthAdjust="spacingAndGlyphs">
<text x="116.4" y="599.2" textLength="55.06" lengthAdjust="spacingAndGlyphs">100</text>
<text x="114.0" y="659.4" textLength="36.71" lengthAdjust="spacingAndGlyphs">75</text>
<text x="114.0" y="719.6" textLength="36.71" lengthAdjust="spacingAndGlyphs">50</text>
<text x="114.0" y="779.9" textLength="36.71" lengthAdjust="spacingAndGlyphs">25</text>
<text x="110.6" y="840.1" textLength="18.35" lengthAdjust="spacingAndGlyphs">0</text>
</g>
<g stroke="#000" stroke-width="3">
<circle cx="245.4" cy="696.6" r="19.5" fill="#5F6BB3"/>
<circle cx="235.4" cy="793.5" r="19.5" fill="#E6882A"/>
<circle cx="409.2" cy="724.8" r="19.5" fill="#55BBA2"/>
<circle cx="443.3" cy="779.6" r="19.5" fill="#9BC943"/>
<circle cx="443.3" cy="791.3" r="19.5" fill="#9BC943"/>
<circle cx="746.6" cy="687.8" r="19.5" fill="#257D6B"/>
<circle cx="746.6" cy="700.6" r="19.5" fill="#257D6B"/>
<circle cx="530.8" cy="704.6" r="19.5" fill="#C65FA7"/>
<circle cx="1427.5" cy="584.5" r="19.5" fill="#EC655C"/>
</g>
<text font-size="34.6" textLength="244.6" lengthAdjust="spacingAndGlyphs" transform="translate(1990.6 578.7) rotate(90)">SBW25 CoEvo3</text>
</g>
<g stroke="#333333" stroke-width="4.2">
<line x1="213.1" y1="833" x2="213.1" y2="843.2"/>
<line x1="709.8" y1="833" x2="709.8" y2="843.2"/>
<line x1="1206.6" y1="833" x2="1206.6" y2="843.2"/>
<line x1="1703.4" y1="833" x2="1703.4" y2="843.2"/>
</g>
<g font-size="34.5" text-anchor="middle">
<text x="212.9" y="877.6" textLength="18.35" lengthAdjust="spacingAndGlyphs">0</text>
<text x="709.5" y="877.5" textLength="18.35" lengthAdjust="spacingAndGlyphs">2</text>
<text x="1206.0" y="877.5" textLength="18.35" lengthAdjust="spacingAndGlyphs">4</text>
<text x="1704.5" y="879.1" textLength="18.35" lengthAdjust="spacingAndGlyphs">6</text>
</g>
<text font-size="42.6" x="661.4" y="935.1" textLength="771.2" lengthAdjust="spacingAndGlyphs">SBW25 genome position [10<tspan font-size="25.3" dy="-14.7">6</tspan><tspan dy="14.7"> base pairs]</tspan></text>
<text font-size="43.3" textLength="588.2" lengthAdjust="spacingAndGlyphs" transform="translate(31.9 719.6) rotate(-90)">Alternative allele frequency (%)</text>
<g id="legend" font-size="37.25">
<circle cx="84.2" cy="1015.0" r="19.4" fill="#E6882A" stroke="#000" stroke-width="3"/>
<circle cx="84.1" cy="1109.2" r="19.4" fill="#9BC943" stroke="#000" stroke-width="3"/>
<circle cx="600.6" cy="1015.0" r="19.4" fill="#EC655C" stroke="#000" stroke-width="3"/>
<circle cx="600.6" cy="1109.4" r="19.4" fill="#C65FA7" stroke="#000" stroke-width="3"/>
<circle cx="1027.1" cy="1015.0" r="19.4" fill="#257D6B" stroke="#000" stroke-width="3"/>
<circle cx="1049.2" cy="1015.0" r="19.4" fill="#DDA827" stroke="#000" stroke-width="3"/>
<circle cx="1073.0" cy="1015.0" r="19.4" fill="#2E88C6" stroke="#000" stroke-width="3"/>
<circle cx="1049.1" cy="1109.1" r="19.4" fill="#5F6BB3" stroke="#000" stroke-width="3"/>
<circle cx="1483.1" cy="1014.9" r="19.4" fill="#55BBA2" stroke="#000" stroke-width="3"/>
<text x="118.5" y="1007.6">Alginate biosynthesis</text>
<text x="118.5" y="1052.0">regulatory protein AlgB</text>
<text x="118.5" y="1101.5">Dipeptide transport system</text>
<text x="118.5" y="1146.3">permease protein DppC</text>
<text x="635.1" y="1008.6">Flagellar biosynthetic</text>
<text x="635.1" y="1053.3">protein FlhB</text>
<text x="635.0" y="1101.8">Glycerol uptake</text>
<text x="635.0" y="1146.5">facilitator protein</text>
<text x="1103.5" y="1029.5">Hypothetical protein</text>
<text x="1103.5" y="1102.0">Linear gramicidin</text>
<text x="1103.8" y="1146.0">synthase subunit D</text>
<text x="1517.7" y="1007.1">Putative short-chain</text>
<text x="1517.7" y="1051.5">fatty acid transporter</text>
</g>
</svg></body></html>
